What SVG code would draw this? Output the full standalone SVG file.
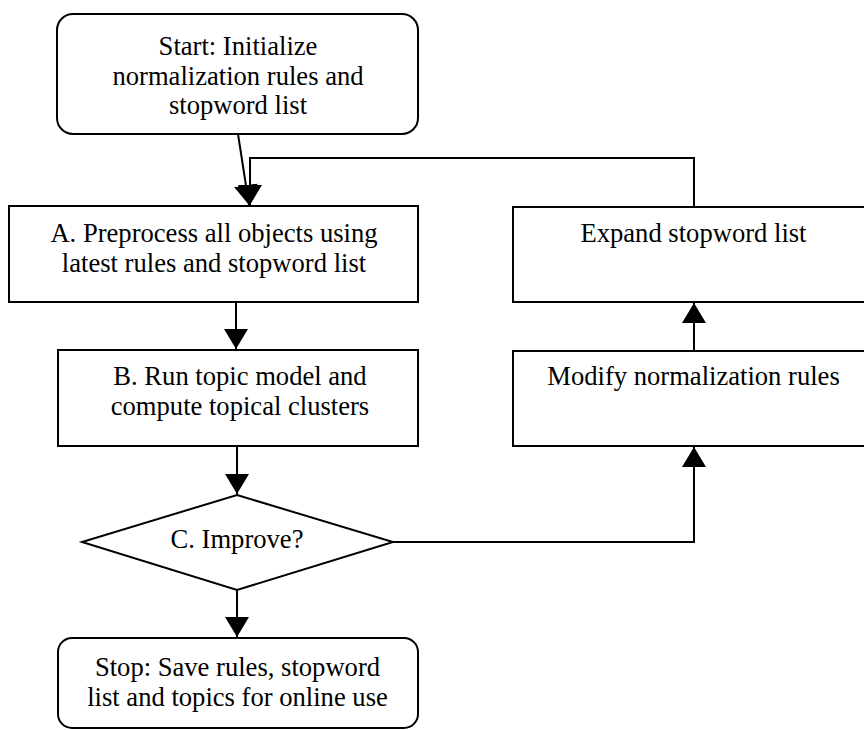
<svg xmlns="http://www.w3.org/2000/svg" width="864" height="730" viewBox="0 0 864 730">
<style>
.box{fill:#fff;stroke:#000;stroke-width:2}
.t{font-family:"Liberation Serif","Times New Roman",serif;font-size:26.6px;fill:#000;text-anchor:middle}
.c{fill:none;stroke:#000;stroke-width:2}
</style>
<defs>
<marker id="ah" markerUnits="userSpaceOnUse" markerWidth="20" markerHeight="24" viewBox="0 0 20 24" refX="20" refY="12" orient="auto">
<path d="M0,0 L20,12 L0,24 z" fill="#000"/>
</marker>
</defs>
<rect width="864" height="730" fill="#fff"/>
<g id="connectors">
<path class="c" d="M238,134 L249,205" marker-end="url(#ah)"/>
<path class="c" d="M694,207 V158 H250 V205" marker-end="url(#ah)"/>
<path class="c" d="M236,302 V349" marker-end="url(#ah)"/>
<path class="c" d="M237,446 V494" marker-end="url(#ah)"/>
<path class="c" d="M237,590 V637" marker-end="url(#ah)"/>
<path class="c" d="M393,542 H694 V447" marker-end="url(#ah)"/>
<path class="c" d="M694,351 V303" marker-end="url(#ah)"/>
</g>
<g id="start">
<rect class="box" x="57" y="14" width="361" height="120" rx="16"/>
<text class="t" x="238" y="55">Start: Initialize</text>
<text class="t" x="238" y="84.5">normalization rules and</text>
<text class="t" x="238" y="114">stopword list</text>
</g>
<g id="nodeA">
<rect class="box" x="9" y="206" width="409" height="96"/>
<text class="t" x="214" y="242">A. Preprocess all objects using</text>
<text class="t" x="214" y="272">latest rules and stopword list</text>
</g>
<g id="nodeB">
<rect class="box" x="58" y="350" width="360" height="96"/>
<text class="t" x="240" y="385">B. Run topic model and</text>
<text class="t" x="240" y="415">compute topical clusters</text>
</g>
<g id="nodeC">
<polygon class="box" points="237,495 393,542 237,590 82,542"/>
<text class="t" x="237" y="548">C. Improve?</text>
</g>
<g id="stop">
<rect class="box" x="58" y="638" width="360" height="90" rx="14"/>
<text class="t" x="237.5" y="676">Stop: Save rules, stopword</text>
<text class="t" x="237.5" y="706">list and topics for online use</text>
</g>
<g id="expand">
<rect class="box" x="513" y="207" width="370" height="95"/>
<text class="t" x="693.5" y="242">Expand stopword list</text>
</g>
<g id="modify">
<rect class="box" x="513" y="351" width="370" height="95"/>
<text class="t" x="693.5" y="385">Modify normalization rules</text>
</g>
</svg>
